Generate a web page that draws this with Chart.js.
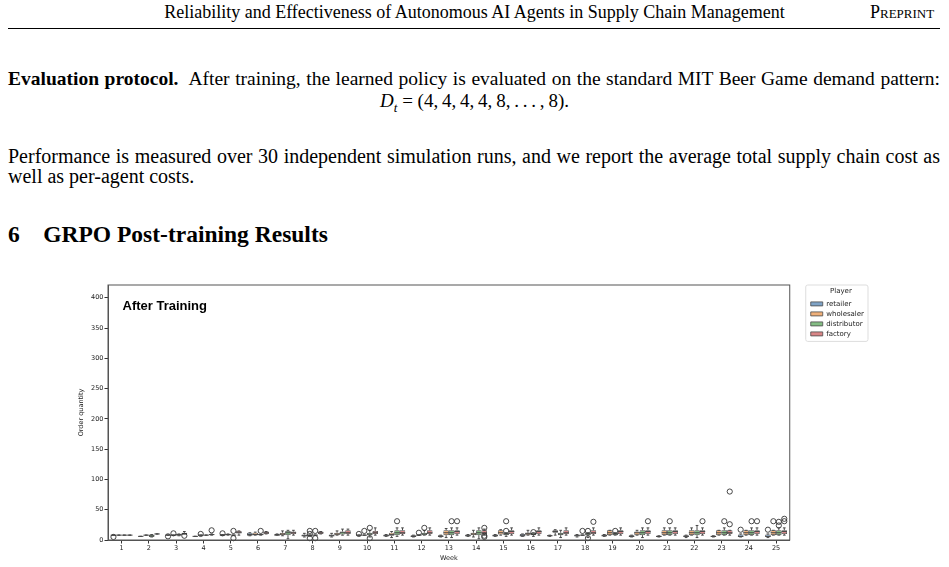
<!DOCTYPE html>
<html>
<head>
    <title>GRPO Post-training Results</title>
    <script src="https://cdn.jsdelivr.net/npm/chart.js"></script>
    <style>
        body {
            margin: 0;
            width: 949px;
            height: 567px;
            overflow: hidden;
            position: relative;
            background: #fff;
            color: #000;
            font-family: "Liberation Serif", "Times New Roman", serif;
        }
        .line {
            position: absolute;
            white-space: nowrap;
            line-height: 1;
        }
        .just {
            left: 8px;
            width: 932px;
            text-align: justify;
            text-align-last: justify;
            font-size: 20px;
        }
        .rule {
            position: absolute;
            left: 8px;
            top: 28px;
            width: 932px;
            height: 0;
            border-top: 1px solid #000;
        }
        #chartBox {
            position: absolute;
            left: 40px;
            top: 275px;
            width: 860px;
            height: 292px;
        }
    </style>
</head>
<body>
    <div class="line" style="left:0;width:949px;text-align:center;top:3px;font-size:18px;">Reliability and Effectiveness of Autonomous AI Agents in Supply Chain Management</div>
    <div class="line" style="left:870px;top:3px;font-size:18px;font-variant:small-caps;">Preprint</div>
    <div class="rule"></div>

    <div class="line just" style="top:69px;font-size:19.5px;"><b>Evaluation protocol.</b>&nbsp; After training, the learned policy is evaluated on the standard MIT Beer Game demand pattern:</div>
    <div class="line" style="left:0;width:949px;text-align:center;top:91px;font-size:19px;"><i>D</i><sub style="font-size:13px;"><i>t</i></sub> = (4,&thinsp;4,&thinsp;4,&thinsp;4,&thinsp;8,&thinsp;.&thinsp;.&thinsp;.&thinsp;,&thinsp;8).</div>
    <div class="line just" style="top:146px;">Performance is measured over 30 independent simulation runs, and we report the average total supply chain cost as</div>
    <div class="line" style="left:8px;top:166px;font-size:20px;">well as per-agent costs.</div>

    <div class="line" style="left:8px;top:223px;font-size:23.5px;font-weight:bold;">6&nbsp;&nbsp;&nbsp;&nbsp;GRPO Post-training Results</div>

    <div id="chartBox"><canvas id="chart"></canvas></div>

    <script>
        const weeks = ['1', '2', '3', '4', '5', '6', '7', '8', '9', '10', '11', '12', '13',
                       '14', '15', '16', '17', '18', '19', '20', '21', '22', '23', '24', '25'];
        const players = ['retailer', 'wholesaler', 'distributor', 'factory'];
        const yTicks = [0, 50, 100, 150, 200, 250, 300, 350, 400];

        // [lower whisker, q1, median, q3, upper whisker] per week
        const retailerStats = [
            [8, 8, 8, 8, 8], [6, 6, 6, 6, 6], [8, 8, 8, 8, 8], [6, 6, 6, 6, 6], [8, 8, 8, 9, 9],
            [7, 7, 9, 12, 12], [8, 8, 8, 10, 10], [5, 6, 7, 9, 11], [5, 6, 7, 9, 11], [8, 8, 8, 8, 8],
            [6, 6, 7, 9, 9], [5, 5, 6, 8, 8], [5, 5, 6, 8, 8], [6, 6, 7, 9, 9], [6, 6, 7, 9, 9],
            [6, 6, 7, 10, 10], [6, 6, 7, 8, 8], [5, 6, 7, 9, 9], [6, 6, 7, 9, 9], [5, 5, 6, 8, 8],
            [5, 5, 6, 7, 7], [4, 5, 6, 8, 8], [5, 5, 6, 7, 7], [5, 5, 6, 9, 10], [4, 5, 6, 9, 10]
        ];
        const wholesalerStats = [
            [8, 8, 8, 8, 8], [8, 8, 8, 8, 8], [8, 8, 8, 8, 8], [8, 8, 8, 8, 8], [8, 8, 9, 10, 10],
            [8, 8, 9, 12, 13], [7, 8, 10, 12, 15], [8, 8, 8, 8, 8], [8, 8, 10, 12, 15], [8, 8, 8, 8, 8],
            [4, 7, 9, 12, 14], [8, 8, 8, 8, 8], [4, 8, 12, 16, 19], [5, 8, 10, 12, 16], [8, 9, 12, 16, 17],
            [8, 8, 11, 12, 16], [8, 12, 14, 16, 17], [8, 8, 8, 8, 8], [8, 8, 12, 16, 16], [8, 8, 12, 14, 16],
            [8, 8, 12, 16, 20], [8, 8, 12, 16, 20], [8, 8, 12, 16, 16], [8, 8, 12, 16, 16], [8, 8, 12, 16, 16]
        ];
        const distributorStats = [
            [8, 8, 8, 8, 8], [5, 5, 7, 9, 9], [7, 7, 9, 10, 10], [8, 8, 8, 8, 8], [8, 8, 8, 8, 8],
            [8, 8, 9, 9, 9], [2, 8, 12, 15, 16], [8, 8, 8, 8, 8], [8, 9, 12, 14, 18], [5, 8, 10, 12, 16],
            [6, 8, 12, 16, 20], [8, 8, 10, 12, 16], [4, 8, 12, 16, 20], [2, 8, 12, 16, 20], [6, 8, 10, 12, 12],
            [6, 8, 10, 12, 12], [4, 8, 10, 12, 16], [4, 8, 10, 12, 12], [8, 8, 10, 12, 12], [4, 8, 12, 16, 20],
            [8, 8, 12, 16, 20], [4, 8, 12, 16, 24], [8, 8, 12, 16, 20], [8, 8, 12, 16, 20], [8, 8, 12, 16, 20]
        ];
        const factoryStats = [
            [8, 8, 8, 8, 8], [10, 10, 10, 10, 10], [10, 10, 10, 12, 14], [8, 8, 9, 10, 10], [8, 11, 12, 15, 15],
            [10, 10, 12, 14, 14], [8, 10, 12, 14, 16], [10, 10, 12, 14, 14], [8, 10, 12, 16, 18], [8, 10, 12, 15, 20],
            [8, 10, 12, 16, 20], [8, 10, 12, 16, 20], [8, 10, 14, 16, 20], [8, 10, 12, 16, 18], [8, 10, 14, 16, 20],
            [8, 10, 14, 16, 20], [8, 10, 12, 16, 20], [8, 10, 12, 16, 20], [8, 10, 14, 16, 20], [8, 10, 14, 16, 20],
            [8, 10, 14, 16, 20], [8, 10, 14, 16, 20], [8, 10, 12, 16, 16], [8, 10, 14, 16, 20], [8, 10, 14, 16, 20]
        ];

        // outliers per week
        const retailerOut = [[5], [], [6], [], [11], [], [], [], [], [10], [], [], [], [], [], [], [], [], [], [], [], [], [], [17], [17]];
        const wholesalerOut = [[], [], [11], [10], [], [], [], [15, 10, 3], [], [15], [], [12], [], [], [], [], [], [15], [], [], [], [], [], [], [31]];
        const distributorOut = [[], [], [], [], [15, 3], [15], [], [15, 3], [], [20, 3], [31], [20], [31], [], [31, 15], [13], [], [15, 3], [15], [], [31], [], [31], [31], [30, 24]];
        const factoryOut = [[], [], [7], [16], [], [], [], [], [], [], [], [], [31], [20, 7, 5], [], [], [], [30], [], [31], [], [31], [26, 80], [31], [35, 31]];

        const allStats = [retailerStats, wholesalerStats, distributorStats, factoryStats];
        const allOut = [retailerOut, wholesalerOut, distributorOut, factoryOut];
        const fills = ['#7fa3c6', '#efb07a', '#84bd84', '#d98687'];
        const edge = '#4a4a4a';

        Chart.defaults.font.family = 'DejaVu Sans';
        Chart.defaults.color = '#222';

        // whiskers, medians and fliers on top of the q1-q3 bars
        const boxParts = {
            id: 'boxParts',
            afterDatasetsDraw(chart) {
                const ctx = chart.ctx;
                const y = chart.scales.y;
                allStats.forEach((rows, d) => {
                    const meta = chart.getDatasetMeta(d);
                    meta.data.forEach((bar, i) => {
                        const [lo, q1, med, q3, hi] = rows[i];
                        const x = bar.x;
                        const hw = bar.width / 2;
                        ctx.save();
                        ctx.strokeStyle = edge;
                        ctx.lineWidth = 1;
                        ctx.beginPath();
                        ctx.moveTo(x, y.getPixelForValue(q3));
                        ctx.lineTo(x, y.getPixelForValue(hi));
                        ctx.moveTo(x, y.getPixelForValue(q1));
                        ctx.lineTo(x, y.getPixelForValue(lo));
                        ctx.moveTo(x - hw / 2, y.getPixelForValue(hi));
                        ctx.lineTo(x + hw / 2, y.getPixelForValue(hi));
                        ctx.moveTo(x - hw / 2, y.getPixelForValue(lo));
                        ctx.lineTo(x + hw / 2, y.getPixelForValue(lo));
                        ctx.moveTo(x - hw, y.getPixelForValue(med));
                        ctx.lineTo(x + hw, y.getPixelForValue(med));
                        ctx.stroke();
                        allOut[d][i].forEach(v => {
                            ctx.beginPath();
                            ctx.arc(x, y.getPixelForValue(v), 2.6, 0, Math.PI * 2);
                            ctx.strokeStyle = '#333';
                            ctx.lineWidth = 0.9;
                            ctx.stroke();
                        });
                        ctx.restore();
                    });
                });
            },
            afterDraw(chart) {
                const ctx = chart.ctx;
                const a = chart.chartArea;
                ctx.save();
                // axes frame
                ctx.strokeStyle = '#555';
                ctx.lineWidth = 1;
                ctx.strokeRect(a.left, a.top, a.right - a.left, a.bottom - a.top);
                // panel title
                ctx.fillStyle = '#000';
                ctx.font = 'bold 13px "Liberation Sans", Arial, sans-serif';
                ctx.textBaseline = 'middle';
                ctx.fillText('After Training', a.left + 14.5, a.top + 21.5);
                // legend frame
                const hb = chart.legend.legendHitBoxes;
                const left = Math.min(...hb.map(h => h.left)) - 5;
                const right = Math.max(...hb.map(h => h.left + h.width)) + 4;
                const last = hb[hb.length - 1];
                ctx.strokeStyle = '#ddd';
                ctx.beginPath();
                ctx.roundRect(left, chart.legend.top, right - left, last.top + last.height + 4 - chart.legend.top, 2);
                ctx.stroke();
                ctx.restore();
            }
        };

        new Chart(document.getElementById('chart'), {
            type: 'bar',
            data: {
                labels: weeks,
                datasets: players.map((p, d) => ({
                    label: p,
                    data: allStats[d].map(r => [r[1], r[3]]),
                    backgroundColor: fills[d],
                    borderColor: edge,
                    borderWidth: 0.8,
                    borderSkipped: false,
                    categoryPercentage: 0.8,
                    barPercentage: 1.0
                }))
            },
            options: {
                responsive: true,
                maintainAspectRatio: false,
                animation: false,
                layout: { padding: { left: 34, top: 10, right: 26, bottom: 5 } },
                plugins: {
                    tooltip: { enabled: false },
                    legend: {
                        position: 'right',
                        align: 'start',
                        title: { display: true, text: 'Player', font: { size: 7 }, padding: { top: 3, bottom: 1 } },
                        labels: { boxWidth: 12, boxHeight: 4, padding: 3, font: { size: 7 }, color: '#222' }
                    }
                },
                scales: {
                    x: {
                        grid: { display: true, drawOnChartArea: false, offset: false, tickLength: 3.5, color: '#333' },
                        border: { display: true, color: '#555' },
                        ticks: { font: { size: 6.5 }, padding: 1, maxRotation: 0 },
                        title: { display: true, text: 'Week', font: { size: 6.5 }, padding: { top: 1, bottom: 0 } },
                        afterFit: s => { s.height = 22; }
                    },
                    y: {
                        min: 0,
                        max: 421,
                        afterBuildTicks: s => { s.ticks = yTicks.map(v => ({ value: v })); },
                        grid: { display: true, drawOnChartArea: false, tickLength: 3.5, color: '#333' },
                        border: { display: true, color: '#555' },
                        ticks: { font: { size: 6.5 }, padding: 1 },
                        title: { display: true, text: 'Order quantity', font: { size: 6.5 }, padding: { top: 3, bottom: 2 } },
                        afterFit: s => { s.width = 34; }
                    },
                    gap: {
                        type: 'linear',
                        position: 'right',
                        display: true,
                        grid: { display: false },
                        border: { display: false },
                        ticks: { display: false },
                        afterFit: s => { s.width = 18; }
                    }
                }
            },
            plugins: [boxParts]
        });
    </script>
</body>
</html>
